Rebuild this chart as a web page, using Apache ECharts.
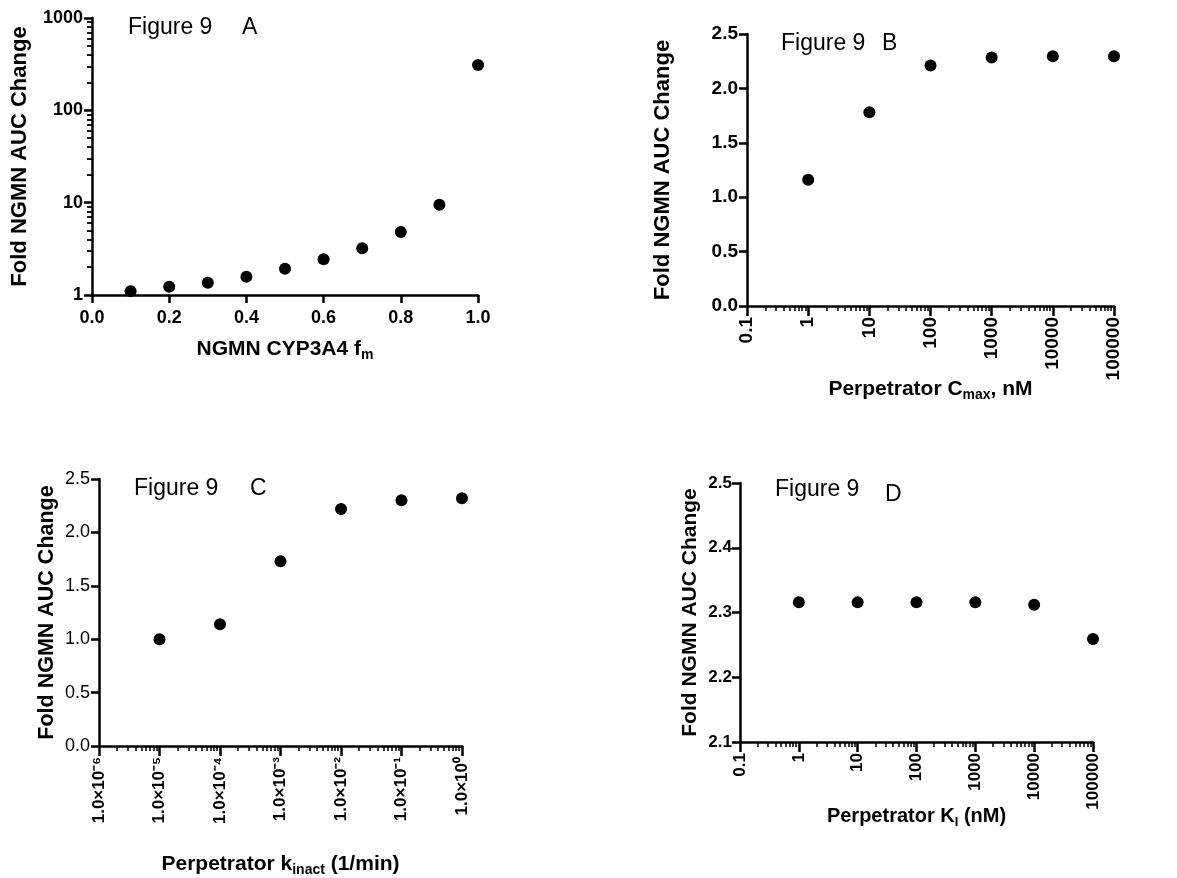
<!DOCTYPE html>
<html>
<head>
<meta charset="utf-8">
<script src="https://cdn.jsdelivr.net/npm/echarts@6/dist/echarts.min.js"></script>
<style>html,body{margin:0;padding:0;background:#fff}#c{width:1177px;height:878px}</style>
</head>
<body>
<div id="c"></div>
<script>
// ---- data ----
const aX = [0.1, 0.2, 0.3, 0.4, 0.5, 0.6, 0.7, 0.8, 0.9, 1.0];
const aY = [1.10, 1.23, 1.36, 1.58, 1.93, 2.44, 3.21, 4.8, 9.5, 309];
const bX = [1, 10, 100, 1000, 10000, 100000];
const bY = [1.16, 1.78, 2.21, 2.285, 2.295, 2.295];
const cX = [1e-5, 1e-4, 1e-3, 1e-2, 1e-1, 1];
const cY = [1.00, 1.14, 1.73, 2.22, 2.30, 2.32];
const dX = [1, 10, 100, 1000, 10000, 100000];
const dY = [2.316, 2.316, 2.316, 2.316, 2.312, 2.259];

// ---- tick labels ----
const aXTicks = ['0.0', '0.2', '0.4', '0.6', '0.8', '1.0'];
const aYTickVals = [1, 10, 100, 1000];
const aYTicks = ['1', '10', '100', '1000'];
const bXTickVals = [0.1, 1, 10, 100, 1000, 10000, 100000];
const bXTicks = ['0.1', '1', '10', '100', '1000', '10000', '100000'];
const cXTickVals = [1e-6, 1e-5, 1e-4, 1e-3, 1e-2, 1e-1, 1];
const cXTicks = ['1.0×10⁻⁶', '1.0×10⁻⁵', '1.0×10⁻⁴', '1.0×10⁻³', '1.0×10⁻²', '1.0×10⁻¹', '1.0×10⁰'];
const dXTickVals = [0.1, 1, 10, 100, 1000, 10000, 100000];
const dXTicks = ['0.1', '1', '10', '100', '1000', '10000', '100000'];

const FF = "'Liberation Sans', Arial, sans-serif";
const BLK = '#000';

function minorTicks(e0, e1) {
  const out = [];
  for (let e = e0; e < e1; e++) {
    for (let k = 2; k <= 9; k++) out.push(+(k * Math.pow(10, e)).toPrecision(6));
  }
  return out;
}
function logLabel(vals, labels) {
  return function (v) {
    const e = Math.round(Math.log10(v));
    for (let i = 0; i < vals.length; i++) if (Math.round(Math.log10(vals[i])) === e) return labels[i];
    return '';
  };
}
const axisLine = { show: true, onZero: false, lineStyle: { color: BLK, width: 2.5 } };
const majTick = (len) => ({ show: true, length: len, lineStyle: { color: BLK, width: 2.5 } });
const lbl = (size, weight) => ({ color: BLK, fontFamily: FF, fontSize: size, fontWeight: weight || 'bold' });
const nameStyle = (size) => ({
  color: BLK, fontFamily: FF, fontSize: size, fontWeight: 'bold',
  rich: { sub: { color: BLK, fontFamily: FF, fontSize: Math.round(size * 0.65), fontWeight: 'bold', padding: [12, 0, 0, 0] } }
});
const yName = 'Fold NGMN AUC Change';
const figStyle = { fontFamily: FF, fontSize: 23, fontWeight: 'normal', color: BLK };

function minorX(grid, min, max, vals) {
  return {
    type: 'log', gridIndex: grid, min: min, max: max, position: 'bottom',
    axisLine: { show: false }, axisLabel: { show: false }, splitLine: { show: false },
    axisTick: { show: true, customValues: vals, length: 5, lineStyle: { color: BLK, width: 1.5 } }
  };
}
const dot = { color: BLK, opacity: 1 };

const option = {
  animation: false,
  backgroundColor: '#fff',
  title: [
    { text: 'Figure 9', left: 123, top: 11, textStyle: figStyle },
    { text: 'A', left: 237, top: 11, textStyle: figStyle },
    { text: 'Figure 9', left: 776, top: 27, textStyle: figStyle },
    { text: 'B', left: 877, top: 27, textStyle: figStyle },
    { text: 'Figure 9', left: 129, top: 472, textStyle: figStyle },
    { text: 'C', left: 245, top: 472, textStyle: figStyle },
    { text: 'Figure 9', left: 770, top: 473, textStyle: figStyle },
    { text: 'D', left: 880, top: 478, textStyle: figStyle }
  ],
  grid: [
    { left: 92, top: 18, width: 386, height: 277 },
    { left: 747, top: 34, width: 367, height: 272 },
    { left: 99, top: 479, width: 363, height: 268 },
    { left: 740, top: 483, width: 353, height: 259 }
  ],
  xAxis: [
    { // 0: A
      type: 'value', gridIndex: 0, min: 0, max: 1, interval: 0.2,
      axisLine: axisLine, axisTick: majTick(8), splitLine: { show: false },
      axisLabel: Object.assign({ margin: 14, formatter: v => aXTicks[Math.round(v / 0.2)] }, lbl(18)),
      name: 'NGMN CYP3A4 f{sub|m}', nameLocation: 'middle', nameGap: 41, nameMoveOverlap: false, nameTextStyle: nameStyle(21)
    },
    { // 1: B major
      type: 'log', gridIndex: 1, min: 0.1, max: 100000,
      axisLine: axisLine, axisTick: Object.assign(majTick(10), { customValues: bXTickVals }), splitLine: { show: false },
      axisLabel: Object.assign({ margin: 11, rotate: 90, customValues: bXTickVals, formatter: logLabel(bXTickVals, bXTicks) }, lbl(19)),
      name: 'Perpetrator C{sub|max}, nM', nameLocation: 'middle', nameGap: 70, nameMoveOverlap: false, nameTextStyle: nameStyle(21)
    },
    minorX(1, 0.1, 100000, minorTicks(-1, 5)),
    { // 3: C major
      type: 'log', gridIndex: 2, min: 1e-6, max: 1,
      axisLine: axisLine, axisTick: Object.assign(majTick(10), { customValues: cXTickVals }), splitLine: { show: false },
      axisLabel: Object.assign({ margin: 11, rotate: 90, customValues: cXTickVals, formatter: logLabel(cXTickVals, cXTicks) }, lbl(17)),
      name: 'Perpetrator k{sub|inact} (1/min)', nameLocation: 'middle', nameGap: 105, nameMoveOverlap: false, nameTextStyle: nameStyle(21)
    },
    minorX(2, 1e-6, 1, minorTicks(-6, 0)),
    { // 5: D major
      type: 'log', gridIndex: 3, min: 0.1, max: 100000,
      axisLine: axisLine, axisTick: Object.assign(majTick(10), { customValues: dXTickVals }), splitLine: { show: false },
      axisLabel: Object.assign({ margin: 11, rotate: 90, customValues: dXTickVals, formatter: logLabel(dXTickVals, dXTicks) }, lbl(17)),
      name: 'Perpetrator K{sub|I} (nM)', nameLocation: 'middle', nameGap: 62, nameMoveOverlap: false, nameTextStyle: nameStyle(20)
    },
    minorX(3, 0.1, 100000, minorTicks(-1, 5))
  ],
  yAxis: [
    { // 0: A major
      type: 'log', gridIndex: 0, min: 1, max: 1000,
      axisLine: axisLine, axisTick: Object.assign(majTick(8), { customValues: aYTickVals }), splitLine: { show: false },
      axisLabel: Object.assign({ margin: 9, customValues: aYTickVals, formatter: logLabel(aYTickVals, aYTicks) }, lbl(18)),
      name: yName, nameLocation: 'middle', nameRotate: 90, nameGap: 61, nameMoveOverlap: false, nameTextStyle: nameStyle(22)
    },
    { // 1: A minor
      type: 'log', gridIndex: 0, min: 1, max: 1000, position: 'left',
      axisLine: { show: false }, axisLabel: { show: false }, splitLine: { show: false },
      axisTick: { show: true, customValues: minorTicks(0, 3), length: 5, lineStyle: { color: BLK, width: 1.8 } }
    },
    { // 2: B
      type: 'value', gridIndex: 1, min: 0, max: 2.5, interval: 0.5,
      axisLine: axisLine, axisTick: majTick(8), splitLine: { show: false },
      axisLabel: Object.assign({ margin: 9, formatter: v => v.toFixed(1) }, lbl(19)),
      name: yName, nameLocation: 'middle', nameRotate: 90, nameGap: 73, nameMoveOverlap: false, nameTextStyle: nameStyle(22)
    },
    { // 3: C
      type: 'value', gridIndex: 2, min: 0, max: 2.5, interval: 0.5,
      axisLine: axisLine, axisTick: majTick(8), splitLine: { show: false },
      axisLabel: Object.assign({ margin: 9, formatter: v => v.toFixed(1) }, lbl(18, 'normal')),
      name: yName, nameLocation: 'middle', nameRotate: 90, nameGap: 41, nameMoveOverlap: false, nameTextStyle: nameStyle(21.5)
    },
    { // 4: D
      type: 'value', gridIndex: 3, min: 2.1, max: 2.5, interval: 0.1,
      axisLine: axisLine, axisTick: majTick(8), splitLine: { show: false },
      axisLabel: Object.assign({ margin: 8, formatter: v => v.toFixed(1) }, lbl(17)),
      name: yName, nameLocation: 'middle', nameRotate: 90, nameGap: 39, nameMoveOverlap: false, nameTextStyle: nameStyle(21)
    }
  ],
  series: [
    { type: 'scatter', xAxisIndex: 0, yAxisIndex: 0, symbolSize: 12, itemStyle: dot, data: aX.map((x, i) => [x, aY[i]]) },
    { type: 'scatter', xAxisIndex: 1, yAxisIndex: 2, symbolSize: 12, itemStyle: dot, data: bX.map((x, i) => [x, bY[i]]) },
    { type: 'scatter', xAxisIndex: 3, yAxisIndex: 3, symbolSize: 12, itemStyle: dot, data: cX.map((x, i) => [x, cY[i]]) },
    { type: 'scatter', xAxisIndex: 5, yAxisIndex: 4, symbolSize: 12, itemStyle: dot, data: dX.map((x, i) => [x, dY[i]]) }
  ]
};
const chart = echarts.init(document.getElementById('c'), null, { renderer: 'canvas' });
chart.setOption(option);
</script>
</body>
</html>
